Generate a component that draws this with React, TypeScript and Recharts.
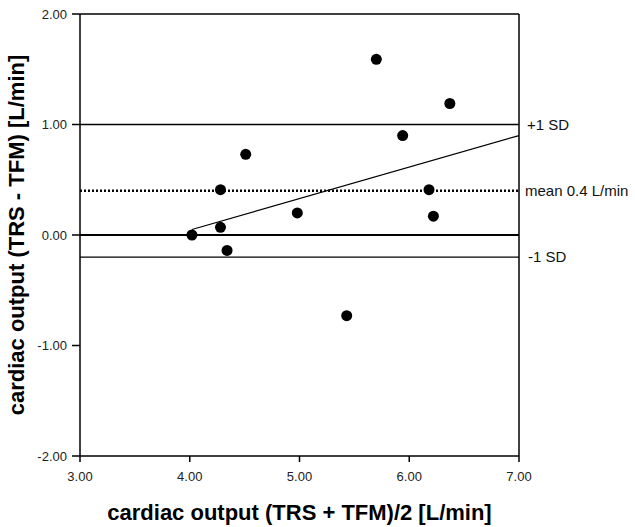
import { ScatterChart, Scatter, XAxis, YAxis, ReferenceLine } from 'recharts';

// mean of the two methods (x) vs difference (y)
const meanValues = [4.02, 4.28, 4.28, 4.34, 4.51, 4.98, 5.43, 5.70, 5.94, 6.18, 6.22, 6.37];
const diffValues = [0.0, 0.41, 0.07, -0.14, 0.73, 0.2, -0.73, 1.59, 0.9, 0.41, 0.17, 1.19];

const xTicks = [3, 4, 5, 6, 7];
const yTicks = [-2, -1, 0, 1, 2];

const meanDiff = 0.4;
const upperSD = 1.0;
const lowerSD = -0.2;
const trendLine = [{ x: 4.02, y: 0.05 }, { x: 7, y: 0.9 }];

const points = meanValues.map((x, i) => ({ x, y: diffValues[i] }));

const font = 'Arial, "Liberation Sans", sans-serif';
const tickStyle = { fontSize: 13, fill: '#222', fontFamily: font };
const refLabel = { fontSize: 15, fill: '#111', fontFamily: font };
const titleStyle = { fontSize: 22, fontWeight: 'bold', fill: '#000', fontFamily: font };

export default function App() {
  return (
    <div style={{ position: 'absolute', left: 0, top: 0, background: '#fff' }}>
      <ScatterChart width={635} height={527} margin={{ top: 14, right: 116, left: 0, bottom: 0 }}>
        <XAxis
          type="number"
          dataKey="x"
          domain={[3, 7]}
          ticks={xTicks}
          tickFormatter={(v) => v.toFixed(2)}
          stroke="#000"
          strokeWidth={1.5}
          tickSize={6}
          tickMargin={10}
          tick={tickStyle}
          height={71}
          label={{ value: 'cardiac output (TRS + TFM)/2 [L/min]', position: 'insideBottom', offset: 7, style: titleStyle }}
        />
        <YAxis
          type="number"
          dataKey="y"
          domain={[-2, 2]}
          ticks={yTicks}
          tickFormatter={(v) => v.toFixed(2)}
          stroke="#000"
          strokeWidth={1.5}
          tickSize={8}
          tickMargin={5}
          tick={tickStyle}
          width={80}
          label={{ value: 'cardiac output (TRS - TFM) [L/min]', angle: -90, position: 'insideLeft', offset: 16, style: { ...titleStyle, textAnchor: 'middle' } }}
        />
        <ReferenceLine y={2} stroke="#000" strokeWidth={1.5} />
        <ReferenceLine x={7} stroke="#000" strokeWidth={1.5} />
        <ReferenceLine y={upperSD} stroke="#000" strokeWidth={1.3} label={{ value: '+1 SD', position: 'right', offset: 8, style: refLabel }} />
        <ReferenceLine y={meanDiff} stroke="#000" strokeWidth={2.5} strokeDasharray="2 2" label={{ value: `mean ${meanDiff} L/min`, position: 'right', offset: 6, style: refLabel }} />
        <ReferenceLine y={0} stroke="#000" strokeWidth={2} />
        <ReferenceLine y={lowerSD} stroke="#000" strokeWidth={1.3} label={{ value: '-1 SD', position: 'right', offset: 9, style: refLabel }} />
        <ReferenceLine segment={trendLine} stroke="#000" strokeWidth={1.2} />
        <Scatter data={points} fill="#000" isAnimationActive={false} shape={(p: any) => <circle cx={p.cx} cy={p.cy} r={5.5} fill="#000" />} />
      </ScatterChart>
    </div>
  );
}
